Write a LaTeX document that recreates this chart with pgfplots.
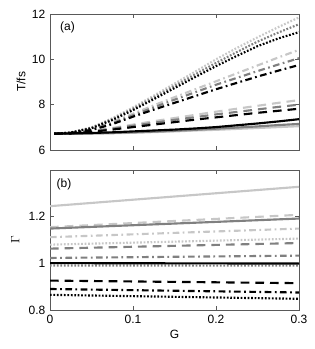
\documentclass[border=0pt]{standalone}
\usepackage{fontspec}
\setmainfont{Liberation Sans}
\usepackage{pgfplots}
\usepackage{pgfplotstable}
\usetikzlibrary{calc}
\pgfplotsset{compat=1.18}
\definecolor{lg}{gray}{0.78}
\definecolor{mg}{gray}{0.5}
\tikzset{
  sol/.style={line width=1.6pt},
  dsh/.style={line width=1.6pt, dash pattern=on 6.5pt off 4.5pt},
  dd/.style={line width=1.6pt, dash pattern=on 5pt off 2.6pt on 1.3pt off 2.6pt},
  dot/.style={line width=1.6pt, dash pattern=on 1.3pt off 1.3pt},
}
\pgfplotstableread{
G     dotL  dotM  dotK  ddL   ddM   ddK   dsL   dsM   dsK   soK   soM   soL
0.005 6.72  6.72  6.72  6.72  6.72  6.72  6.72  6.72  6.72  6.72  6.72  6.72
0.025 6.78  6.77  6.77  6.76  6.75  6.75  6.74  6.74  6.73  6.73  6.72  6.72
0.05  7.00  6.98  6.96  6.92  6.90  6.88  6.84  6.82  6.80  6.75  6.73  6.73
0.075 7.40  7.36  7.32  7.22  7.18  7.14  6.97  6.94  6.90  6.78  6.75  6.74
0.1   7.88  7.82  7.76  7.60  7.53  7.47  7.12  7.07  7.01  6.82  6.78  6.76
0.125 8.40  8.32  8.24  7.97  7.88  7.78  7.27  7.20  7.12  6.86  6.81  6.79
0.15  8.93  8.83  8.73  8.33  8.22  8.08  7.41  7.33  7.23  6.90  6.85  6.82
0.175 9.46  9.34  9.22  8.68  8.55  8.38  7.55  7.45  7.34  6.95  6.89  6.86
0.2   10.00 9.84  9.70  9.03  8.88  8.68  7.69  7.57  7.44  7.01  6.94  6.89
0.225 10.50 10.32 10.15 9.38  9.18  8.96  7.82  7.68  7.54  7.09  6.99  6.93
0.25  10.97 10.78 10.58 9.73  9.48  9.24  7.95  7.79  7.64  7.17  7.04  6.97
0.275 11.42 11.18 10.92 10.08 9.77  9.50  8.08  7.90  7.73  7.26  7.10  7.01
0.3   11.85 11.55 11.20 10.42 10.05 9.75  8.20  8.00  7.82  7.36  7.15  7.05
}\Tdata
\pgfplotstableread{
G   soL   dsL   ddL   dotL  soM   dsM   ddM   dotM  soK   dsK   ddK   dotK
0   1.245 1.155 1.112 1.080 1.149 1.063 1.023 0.991 1.001 0.926 0.890 0.865
0.3 1.328 1.208 1.149 1.106 1.192 1.087 1.033 0.990 0.999 0.915 0.875 0.848
}\Gdata
\begin{document}
\begin{tikzpicture}[font=\fontsize{9}{11}\selectfont]
\pgfplotsset{
  myax/.style={
    scale only axis, width=186.75pt,
    xmin=0, xmax=0.3,
    xtick={0,0.1,0.2,0.3},
    tick align=inside, major tick length=3pt,
    axis line style={black!65},
    tick style={black!65, line width=0.4pt},
    /pgf/number format/assume math mode=true,
    ticklabel style={font=\fontsize{9}{11}\selectfont},
    label style={font=\fontsize{9}{11}\selectfont},
    clip=true,
  }
}
\begin{axis}[myax, name=a, height=102pt,
  ymin=6, ymax=12, ytick={6,8,10,12},
  xticklabels={},
  ylabel={T/fs}, ylabel style={yshift=-2pt},
]
\addplot[lg, sol] table[x=G, y=soL] {\Tdata};
\addplot[mg, sol] table[x=G, y=soM] {\Tdata};
\addplot[lg, dsh] table[x=G, y=dsL] {\Tdata};
\addplot[mg, dsh] table[x=G, y=dsM] {\Tdata};
\addplot[lg, dd] table[x=G, y=ddL] {\Tdata};
\addplot[mg, dd] table[x=G, y=ddM] {\Tdata};
\addplot[lg, dot] table[x=G, y=dotL] {\Tdata};
\addplot[mg, dot] table[x=G, y=dotM] {\Tdata};
\addplot[black, sol] table[x=G, y=soK] {\Tdata};
\addplot[black, dsh] table[x=G, y=dsK] {\Tdata};
\addplot[black, dd] table[x=G, y=ddK] {\Tdata};
\addplot[black, dot] table[x=G, y=dotK] {\Tdata};
\node at (rel axis cs:0.07,0.9) {(a)};
\end{axis}
\begin{axis}[myax, name=b, height=105pt,
  at={($(a.south west)+(0,-15pt)$)}, anchor=north west,
  ymin=0.8, ymax=1.4, ytick={0.8,1,1.2},
  xlabel={G}, ylabel={$\Gamma$}, xlabel style={yshift=2pt},
]
\addplot[lg, sol] table[x=G, y=soL] {\Gdata};
\addplot[lg, dsh] table[x=G, y=dsL] {\Gdata};
\addplot[lg, dd] table[x=G, y=ddL] {\Gdata};
\addplot[lg, dot] table[x=G, y=dotL] {\Gdata};
\addplot[mg, sol] table[x=G, y=soM] {\Gdata};
\addplot[mg, dsh] table[x=G, y=dsM] {\Gdata};
\addplot[mg, dd] table[x=G, y=ddM] {\Gdata};
\addplot[mg, dot] table[x=G, y=dotM] {\Gdata};
\addplot[black, sol] table[x=G, y=soK] {\Gdata};
\addplot[black, dsh] table[x=G, y=dsK] {\Gdata};
\addplot[black, dd] table[x=G, y=ddK] {\Gdata};
\addplot[black, dot] table[x=G, y=dotK] {\Gdata};
\node at (rel axis cs:0.056,0.9) {(b)};
\end{axis}
\pgfresetboundingbox
\path (a.north west) ++(-37.5pt,10.5pt) coordinate (bb1);
\path (b.south east) ++(11.25pt,-29.25pt) coordinate (bb2);
\path (bb1) rectangle (bb2);
\end{tikzpicture}
\end{document}
